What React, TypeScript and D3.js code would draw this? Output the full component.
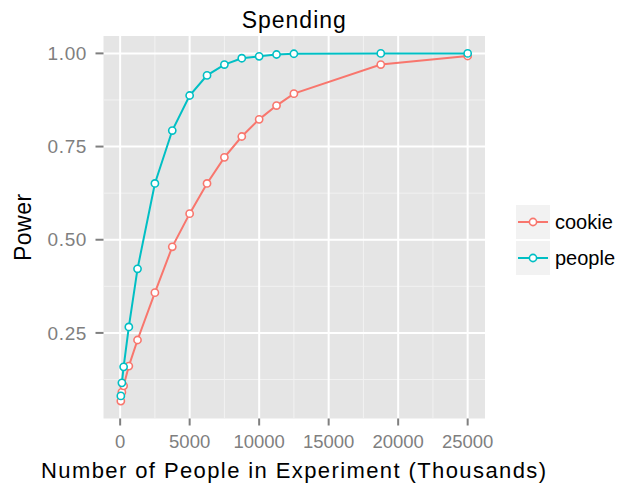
import React from "react";
import * as d3 from "d3";

const xValues = [50, 125, 250, 625, 1250, 2500, 3750, 5000, 6250, 7500, 8750, 10000, 11250, 12500, 18750, 25000];
const cookiePower = [0.067, 0.091, 0.108, 0.161, 0.231, 0.358, 0.481, 0.570, 0.651, 0.721, 0.777, 0.823, 0.860, 0.892, 0.970, 0.993];
const peoplePower = [0.081, 0.116, 0.159, 0.266, 0.422, 0.651, 0.793, 0.887, 0.941, 0.970, 0.987, 0.992, 0.997, 0.999, 1.0, 1.0];
const seriesNames = ["cookie", "people"];
const seriesColors = ["#F8766D", "#00BFC4"];
const xTicks = [0, 5000, 10000, 15000, 20000, 25000];
const xMinor = [2500, 7500, 12500, 17500, 22500];
const yTicks = [0.25, 0.5, 0.75, 1.0];
const yMinor = [0.125, 0.375, 0.625, 0.875];

const W = 629, H = 487;
const panel = { left: 103.5, right: 485, top: 36, bottom: 418.5 };
const font = "'Liberation Sans', Arial, Helvetica, sans-serif";

export default function App() {
  const xr = d3.extent(xValues) as [number, number];
  const allY = [...cookiePower, ...peoplePower];
  const yr = d3.extent(allY) as [number, number];
  const xPad = (xr[1] - xr[0]) * 0.05;
  const yPad = (yr[1] - yr[0]) * 0.05;
  const x = d3.scaleLinear().domain([xr[0] - xPad, xr[1] + xPad]).range([panel.left, panel.right]);
  const y = d3.scaleLinear().domain([yr[0] - yPad, yr[1] + yPad]).range([panel.bottom, panel.top]);
  const series = [cookiePower, peoplePower];
  const line = d3.line<number>().x((_, i) => x(xValues[i])).y((d) => y(d));

  return (
    <svg width={W} height={H} style={{ position: "absolute", left: 0, top: 0 }} fontFamily={font}>
      <rect x={0} y={0} width={W} height={H} fill="#fff" />
      <rect x={panel.left} y={panel.top} width={panel.right - panel.left} height={panel.bottom - panel.top} fill="#E5E5E5" />
      {xMinor.map((t) => (
        <line key={"xm" + t} x1={x(t)} x2={x(t)} y1={panel.top} y2={panel.bottom} stroke="#F2F2F2" strokeWidth={1} />
      ))}
      {yMinor.map((t) => (
        <line key={"ym" + t} y1={y(t)} y2={y(t)} x1={panel.left} x2={panel.right} stroke="#F2F2F2" strokeWidth={1} />
      ))}
      {xTicks.map((t) => (
        <line key={"xg" + t} x1={x(t)} x2={x(t)} y1={panel.top} y2={panel.bottom} stroke="#fff" strokeWidth={2} />
      ))}
      {yTicks.map((t) => (
        <line key={"yg" + t} y1={y(t)} y2={y(t)} x1={panel.left} x2={panel.right} stroke="#fff" strokeWidth={2} />
      ))}
      {series.map((s, k) => (
        <path key={"l" + k} d={line(s) || ""} fill="none" stroke={seriesColors[k]} strokeWidth={2} />
      ))}
      {series.map((s, k) =>
        s.map((v, i) => (
          <circle key={"p" + k + "-" + i} cx={x(xValues[i])} cy={y(v)} r={3.6} fill="#fff" stroke={seriesColors[k]} strokeWidth={1.6} />
        ))
      )}
      {xTicks.map((t) => (
        <g key={"xt" + t}>
          <line x1={x(t)} x2={x(t)} y1={panel.bottom} y2={panel.bottom + 7} stroke="#7F7F7F" strokeWidth={2} />
          <text x={x(t)} y={448} textAnchor="middle" fontSize={18.5} fill="#7F7F7F">{t}</text>
        </g>
      ))}
      {yTicks.map((t) => (
        <g key={"yt" + t}>
          <line x1={panel.left - 8} x2={panel.left} y1={y(t)} y2={y(t)} stroke="#7F7F7F" strokeWidth={2} />
          <text x={87} y={y(t)} dy="0.35em" textAnchor="end" fontSize={19} letterSpacing={0.6} fill="#7F7F7F">{d3.format(".2f")(t)}</text>
        </g>
      ))}
      <text x={(panel.left + panel.right) / 2} y={28} textAnchor="middle" fontSize={23} letterSpacing={1} fill="#000">Spending</text>
      <text x={(panel.left + panel.right) / 2} y={478} textAnchor="middle" fontSize={22} letterSpacing={1.4} fill="#000">Number of People in Experiment (Thousands)</text>
      <text transform={`translate(31,${(panel.top + panel.bottom) / 2}) rotate(-90)`} textAnchor="middle" fontSize={23} letterSpacing={0.5} fill="#000">Power</text>
      {seriesNames.map((n, k) => {
        const ky = 205 + k * 36;
        return (
          <g key={"lg" + n}>
            <rect x={516} y={ky} width={34} height={34} fill="#F2F2F2" />
            <line x1={518} x2={548} y1={ky + 17} y2={ky + 17} stroke={seriesColors[k]} strokeWidth={2} />
            <circle cx={533} cy={ky + 17} r={3.6} fill="#fff" stroke={seriesColors[k]} strokeWidth={1.6} />
            <text x={555} y={ky + 17} dy="0.35em" fontSize={20} fill="#000">{n}</text>
          </g>
        );
      })}
    </svg>
  );
}
